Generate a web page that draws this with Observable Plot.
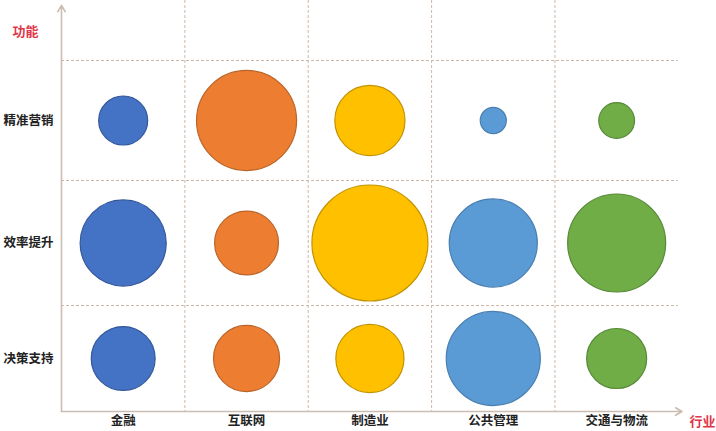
<!DOCTYPE html>
<html><head><meta charset="utf-8">
<script src="https://cdn.jsdelivr.net/npm/d3@7"></script>
<script src="https://cdn.jsdelivr.net/npm/@observablehq/plot@0.6"></script>
<style>body{margin:0;background:#fff;} #chart{width:716px;height:431px;}</style>
</head><body><div id="chart"></div>
<script>
const industries = ["金融","互联网","制造业","公共管理","交通与物流"];
const functions = ["精准营销","效率提升","决策支持"];
const fillColors = ["#4472C4","#ED7D31","#FFC000","#5B9BD5","#70AD47"];
const strokeColors = ["#34589A","#B9652A","#C29300","#4A7FB0","#578A37"];
const valuesMarketing = [6.0, 25.0, 12.3, 1.7, 3.2];
const valuesEfficiency = [18.5, 10.2, 33.6, 19.4, 24.0];
const valuesDecision = [10.2, 10.9, 11.6, 22.1, 9.0];
const xAxisTitle = "行业";
const yAxisTitle = "功能";

const seriesByFunction = [valuesMarketing, valuesEfficiency, valuesDecision];
const data = functions.flatMap((f, fi) => industries.map((ind, ii) => ({
  industry: ind, func: f, xi: ii + 0.5, yi: fi + 0.5, ci: ii, value: seriesByFunction[fi][ii]
})));

const gridColor = "#cdb8a6";
const axisColor = "#cbbdb2";
const font = "'Noto Sans CJK SC', 'Noto Sans', sans-serif";

const chart = Plot.plot({
  width: 716,
  height: 431,
  marginLeft: 61,
  marginRight: 32,
  marginTop: 0,
  marginBottom: 20,
  style: {fontFamily: font, fontSize: "12.5px", color: "#222", background: "#fff"},
  x: {domain: [0, 5.05], label: null},
  y: {type: "linear", domain: [-0.5, 0, 1, 2, 3], range: [0, 60, 180, 305, 411], label: null},
  r: {type: "sqrt", domain: [0, 33.6], range: [0, 58]},
  color: {type: "identity"},
  marks: [
    Plot.ruleX(d3.range(1, industries.length), {y1: -0.5, y2: 3, stroke: gridColor, strokeWidth: 1, strokeDasharray: "3,2"}),
    Plot.ruleY(d3.range(0, functions.length), {x1: 0, x2: 5.0, stroke: gridColor, strokeWidth: 1, strokeDasharray: "3,2"}),
    Plot.arrow([null], {x1: 0, y1: 3, x2: 0, y2: -0.46, stroke: axisColor, strokeWidth: 1.6, headLength: 7}),
    Plot.arrow([null], {x1: 0, y1: 3, x2: 5.03, y2: 3, stroke: axisColor, strokeWidth: 1.6, headLength: 7}),
    Plot.dot(data, {x: "xi", y: "yi", r: "value", fill: d => fillColors[d.ci], stroke: d => strokeColors[d.ci], strokeWidth: 1.2}),
    Plot.axisX(industries.map((_, i) => i + 0.5), {tickFormat: d => industries[Math.floor(d)], tickSize: 0, tickPadding: 5, fontWeight: "bold", label: null}),
    Plot.axisY(functions.map((_, i) => i + 0.5), {tickFormat: d => functions[Math.floor(d)], tickSize: 0, tickPadding: 8, fontWeight: "bold", label: null}),
    Plot.text([yAxisTitle], {text: d => d, frameAnchor: "top-left", dx: -36, dy: 31, textAnchor: "middle", lineAnchor: "middle", fill: "#e0374a", fontWeight: "bold", fontSize: 13}),
    Plot.text([xAxisTitle], {text: d => d, frameAnchor: "bottom-right", dx: 18, dy: 10, textAnchor: "middle", lineAnchor: "middle", fill: "#e0374a", fontWeight: "bold", fontSize: 13})
  ]
});
document.getElementById("chart").appendChild(chart);
</script>
</body></html>
